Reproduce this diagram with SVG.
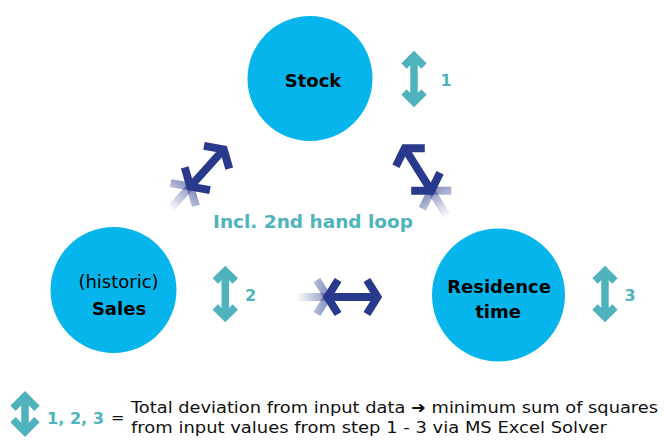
<svg xmlns="http://www.w3.org/2000/svg" width="664" height="441" viewBox="0 0 664 441">
  <defs>
    <style>
      .node { fill: #06B5EB; }
      .lbl { font-family: "DejaVu Sans", Verdana, sans-serif; font-size: 18px; fill: #000; text-anchor: middle; }
      .b { font-weight: bold; }
      .teal { fill: #4FB3BE; font-family: "DejaVu Sans", Verdana, sans-serif; font-weight: bold; }
      .note { font-family: "DejaVu Sans", Verdana, sans-serif; font-size: 16px; fill: #111; }
      .vstep { fill: none; stroke: #4FB3BE; stroke-width: 7.5; stroke-linejoin: miter; stroke-linecap: butt; }
      .link { fill: none; stroke: #293A8C; stroke-width: 8; stroke-linejoin: miter; stroke-linecap: butt; }
    </style>
    <!-- fading tail behind a two-way arrow -->
    <linearGradient id="tail" gradientUnits="userSpaceOnUse" x1="-56" y1="0" x2="-24" y2="0">
      <stop offset="0" stop-color="#293A8C" stop-opacity="0"/>
      <stop offset="1" stop-color="#293A8C" stop-opacity="0.55"/>
    </linearGradient>
    <linearGradient id="ghost" gradientUnits="userSpaceOnUse" x1="-40" y1="0" x2="-22" y2="0">
      <stop offset="0" stop-color="#293A8C" stop-opacity="0.3"/>
      <stop offset="1" stop-color="#293A8C" stop-opacity="0.6"/>
    </linearGradient>
    <!-- vertical two-way step arrow -->
    <path id="step" class="vstep" d="M-10,-13 L0,-23 L10,-13 M0,-23 V23 M-10,13 L0,23 L10,13"/>
    <!-- two-way link arrow, pointing along local x, with tail at -x -->
    <g id="link">
      <rect x="-56" y="-4" width="31" height="8" fill="url(#tail)"/>
      <path d="M-35.6,-17 L-25,0 L-35.6,17" fill="none" stroke="url(#ghost)" stroke-width="8" stroke-linejoin="miter"/>
      <path class="link" d="M-14.4,-17 L-25,0 L-14.4,17 M-25,0 H25 M14.4,-17 L25,0 L14.4,17"/>
    </g>
  </defs>

  <!-- connectors -->
  <g id="connectors">
    <use href="#link" transform="translate(207,168) rotate(-48)"/>
    <use href="#link" transform="translate(418,169.5) rotate(-122)"/>
    <use href="#link" transform="translate(352.5,297)"/>
  </g>

  <g id="node-stock">
    <circle class="node" cx="310" cy="78.5" r="62.5"/>
    <text class="lbl b" x="313" y="86.5">Stock</text>
  </g>

  <g id="node-sales">
    <circle class="node" cx="113.5" cy="290" r="63"/>
    <text class="lbl" x="118.5" y="288">(historic)</text>
    <text class="lbl b" x="119" y="315">Sales</text>
  </g>

  <g id="node-residence">
    <circle class="node" cx="498.5" cy="295" r="66.5"/>
    <text class="lbl b" x="499" y="293">Residence</text>
    <text class="lbl b" x="498" y="318">time</text>
  </g>

  <text class="teal" x="313" y="228" font-size="18" text-anchor="middle" textLength="200" lengthAdjust="spacingAndGlyphs">Incl. 2nd hand loop</text>

  <!-- calibration steps -->
  <g id="step-1">
    <use href="#step" transform="translate(414,79)"/>
    <text class="teal" x="446" y="86" font-size="16" text-anchor="middle">1</text>
  </g>
  <g id="step-2">
    <use href="#step" transform="translate(225.3,294)"/>
    <text class="teal" x="250.5" y="301" font-size="16" text-anchor="middle">2</text>
  </g>
  <g id="step-3">
    <use href="#step" transform="translate(605,294)"/>
    <text class="teal" x="630" y="301" font-size="16" text-anchor="middle">3</text>
  </g>

  <!-- legend -->
  <g id="legend">
    <path class="vstep" stroke-width="9" d="M13,408.4 L25,396.4 L37,408.4 M25,396.4 V431.6 M13,419.6 L25,431.6 L37,419.6"/>
    <text class="teal" x="47" y="423.5" font-size="16" textLength="57" lengthAdjust="spacingAndGlyphs">1, 2, 3</text>
    <text class="note" x="111" y="423">=</text>
    <text class="note" x="131" y="413" textLength="527" lengthAdjust="spacingAndGlyphs">Total deviation from input data ➜ minimum sum of squares</text>
    <text class="note" x="131" y="433" textLength="476" lengthAdjust="spacingAndGlyphs">from input values from step 1 - 3 via MS Excel Solver</text>
  </g>
</svg>
